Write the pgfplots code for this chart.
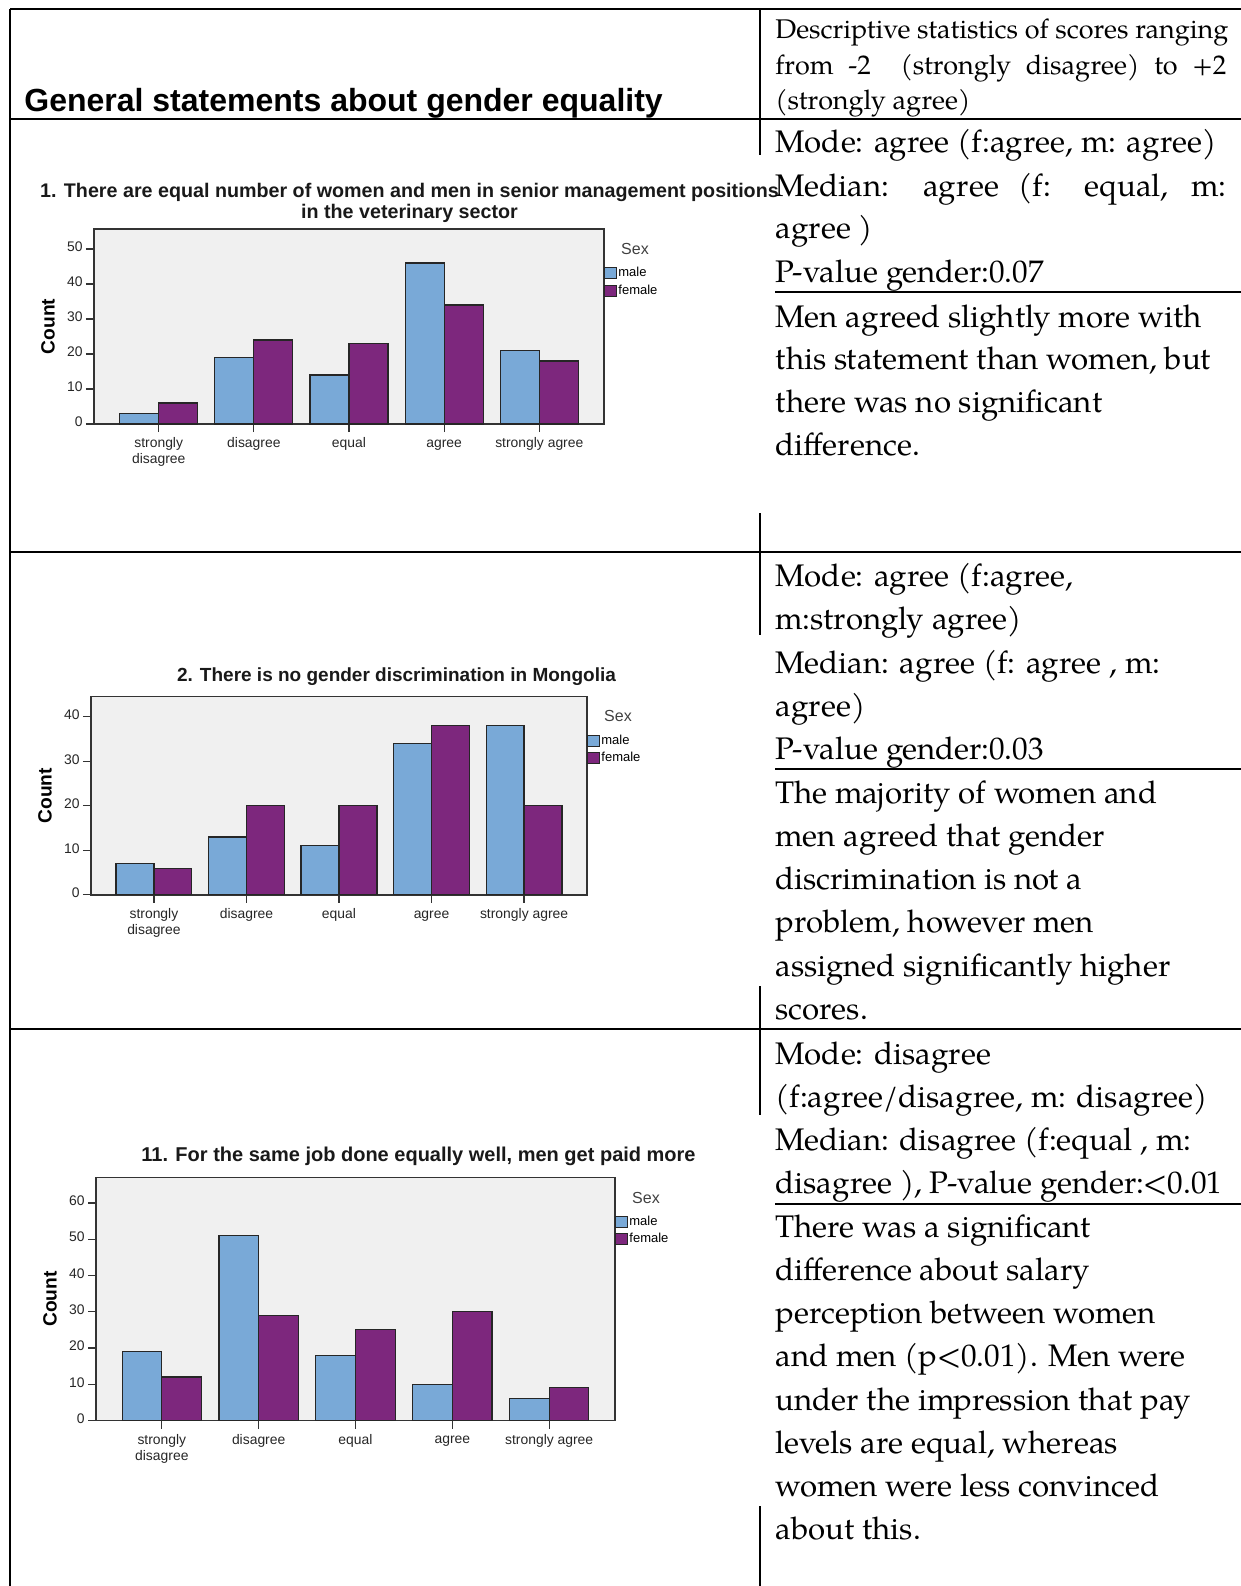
\documentclass[border=0pt]{standalone}
\usepackage{fontspec}
\usepackage{pgfplots}
\usepackage{pgfplotstable}
\pgfplotsset{compat=1.18}
\setmainfont{Liberation Sans}
\newfontfamily\pal{texgyrepagella}[Extension=.otf, UprightFont=*-regular, BoldFont=*-bold]

\definecolor{male}{RGB}{121,169,215}
\definecolor{female}{RGB}{125,39,125}
\definecolor{bgc}{RGB}{240,240,240}

% counts per answer: male (m), female (f)
\pgfplotstableread{
x m f
0 3 6
1 19 24
2 14 23
3 46 34
4 21 18
}\qone
\pgfplotstableread{
x m f
0 7 6
1 13 20
2 11 20
3 34 38
4 38 20
}\qtwo
\pgfplotstableread{
x m f
0 19 12
1 51 29
2 18 25
3 10 30
4 6 9
}\qeleven

\pgfplotsset{
  ybar legend/.style={legend image code/.code={\draw[##1,draw=black!85,line width=0.5pt] (1pt,-2.75pt) rectangle (7pt,2.75pt);}},
  spss/.style={
    scale only axis, anchor=north west, clip=false,
    ybar, bar width=0.41,
    axis background/.style={fill=bgc},
    axis line style={draw=black!80, line width=0.8pt},
    xmin=-0.68, xmax=4.68, ymin=0,
    xtick={0,1,2,3,4},
    xticklabels={{strongly\\disagree},disagree,equal,agree,strongly agree},
    typeset ticklabels with strut,
    xticklabel style={align=center, font=\fontsize{6.95}{7}\selectfont, text=black!85, inner sep=2.6pt},
    yticklabel style={font=\fontsize{6.95}{7}\selectfont, text=black!85, inner sep=1.5pt},
    /pgf/number format/assume math mode=true,
    tick align=outside, xtick pos=bottom, ytick pos=left,
    major tick length=4pt, tick style={draw=black!80, line width=0.6pt},
    ylabel=Count,
    every axis y label/.style={at={(rel axis cs:0,0.5)}, xshift=-23pt, rotate=90, anchor=center,
      font=\bfseries\fontsize{9.6}{11}\selectfont},
    legend style={at={(1,1)}, anchor=north west, yshift=-17.6pt, draw=none, fill=none,
      font=\fontsize{6.5}{7}\selectfont, inner sep=0pt, row sep=0pt,
      nodes={inner sep=0.5pt, text height=5.6pt, text depth=2.15pt}},
    legend cell align=left,
    every axis plot/.append style={draw=black!85, line width=0.6pt},
  },
}
\newcommand\sex{\node[font=\fontsize{8}{9}\selectfont, text=black!75, xshift=15.5pt, yshift=-10pt] at (rel axis cs:1,1) {Sex};}

\begin{document}
\begin{tikzpicture}
\useasboundingbox (0,0) rectangle (620.5pt,-793pt);
\begin{scope}[x=0.5pt,y=-0.5pt]
  % table rules
  \draw[line width=1pt] (10,9) -- (1241,9);
  \draw[line width=1pt] (10,9) -- (10,1586);
  \draw[line width=1pt] (10,119) -- (1241,119);
  \draw[line width=1pt] (10,552) -- (1241,552);
  \draw[line width=1pt] (10,1029) -- (1241,1029);
  \draw[line width=1pt] (775,292) -- (1241,292);
  \draw[line width=1pt] (775,769) -- (1241,769);
  \draw[line width=1pt] (775,1204) -- (1241,1204);
  \draw[line width=1pt] (760,9) -- (760,155);
  \draw[line width=1pt] (760,513) -- (760,635);
  \draw[line width=1pt] (760,986) -- (760,1115);
  \draw[line width=1pt] (760,1506) -- (760,1586);

  % header
  \node[anchor=base west, inner sep=0pt, font=\bfseries\fontsize{16}{18}\selectfont] at (24,111) {General statements about gender equality};
  \begin{scope}[every node/.style={anchor=base west, inner sep=0pt, font=\pal\fontsize{13.5}{16}\selectfont}]
    \node at (775,38.5) {Descriptive statistics of scores ranging};
    \node at (775,74) {\makebox[225.5pt][s]{from -2 \ (strongly disagree) to +2}};
    \node at (775,109.5) {(strongly agree)};
  \end{scope}

  % chart titles
  \begin{scope}[every node/.style={anchor=base, inner sep=0pt, text=black!90}]
    \node[font=\bfseries\fontsize{9.85}{11}\selectfont] at (409.5,197) {1. There are equal number of women and men in senior management positions};
    \node[font=\bfseries\fontsize{9.85}{11}\selectfont] at (409.5,218.4) {in the veterinary sector};
    \node[font=\bfseries\fontsize{9.5}{11}\selectfont] at (396.5,681) {2. There is no gender discrimination in Mongolia};
    \node[font=\bfseries\fontsize{10}{11}\selectfont] at (418.5,1161.6) {11. For the same job done equally well, men get paid more};
  \end{scope}

  % right column
  \begin{scope}[every node/.style={anchor=base west, inner sep=0pt, font=\pal\fontsize{15.6}{19}\selectfont}]
    \node at (775,152) {Mode: agree (f:agree, m: agree)};
    \node at (775,196) {\makebox[225.5pt][s]{Median: agree (f: equal, m:}};
    \node at (775,238.5) {agree )};
    \node at (775,282) {P-value gender:0.07};
    \node at (775,327) {Men agreed slightly more with};
    \node at (775,369.5) {this statement than women, but};
    \node at (775,412) {there was no significant};
    \node at (775,455) {difference.};

    \node at (775,586.5) {Mode: agree (f:agree,};
    \node at (775,629.8) {m:strongly agree)};
    \node at (775,673.1) {Median: agree (f: agree , m:};
    \node at (775,716.4) {agree)};
    \node at (775,759.7) {P-value gender:0.03};
    \node at (775,803) {The majority of women and};
    \node at (775,846.3) {men agreed that gender};
    \node at (775,889.6) {discrimination is not a};
    \node at (775,932.9) {problem, however men};
    \node at (775,976.2) {assigned significantly higher};
    \node at (775,1019.5) {scores.};

    \node at (775,1064) {Mode: disagree};
    \node at (775,1107.3) {(f:agree/disagree, m: disagree)};
    \node at (775,1150.5) {Median: disagree (f:equal , m:};
    \node at (775,1193.8) {disagree ), P-value gender:<0.01};
    \node at (775,1237) {There was a significant};
    \node at (775,1280.3) {difference about salary};
    \node at (775,1323.5) {perception between women};
    \node at (775,1366.8) {and men (p<0.01). Men were};
    \node at (775,1410) {under the impression that pay};
    \node at (775,1453.3) {levels are equal, whereas};
    \node at (775,1496.5) {women were less convinced};
    \node at (775,1539.8) {about this.};
  \end{scope}
\end{scope}

% chart 1
\begin{axis}[spss, at={(47pt,-114.5pt)}, width=255pt, height=97.5pt, ymax=55.7, ytick={0,10,...,50}]
\addplot[fill=male, bar shift=-0.205] table[x=x,y=m]{\qone};
\addlegendentry{male}
\addplot[fill=female, bar shift=0.205] table[x=x,y=f]{\qone};
\addlegendentry{female}
\sex
\end{axis}

% chart 2
\begin{axis}[spss, at={(45.5pt,-348.2pt)}, width=248pt, height=99.2pt, ymax=44.6, ytick={0,10,...,40}]
\addplot[fill=male, bar shift=-0.205] table[x=x,y=m]{\qtwo};
\addlegendentry{male}
\addplot[fill=female, bar shift=0.205] table[x=x,y=f]{\qtwo};
\addlegendentry{female}
\sex
\end{axis}

% chart 3
\begin{axis}[spss, at={(48pt,-588.75pt)}, width=259.5pt, height=121.5pt, ymax=67, ytick={0,10,...,60}]
\addplot[fill=male, bar shift=-0.205] table[x=x,y=m]{\qeleven};
\addlegendentry{male}
\addplot[fill=female, bar shift=0.205] table[x=x,y=f]{\qeleven};
\addlegendentry{female}
\sex
\end{axis}
\end{tikzpicture}
\end{document}
